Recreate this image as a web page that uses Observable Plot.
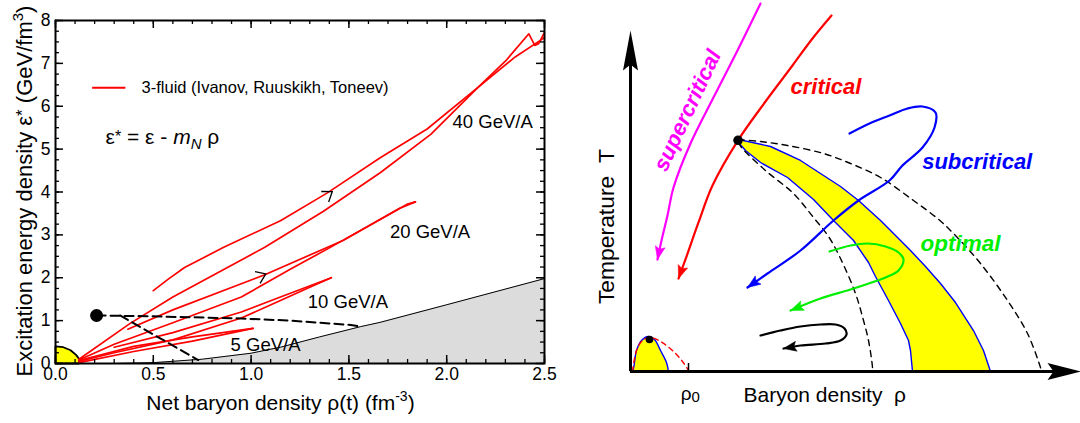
<!DOCTYPE html>
<html>
<head>
<meta charset="utf-8">
<script src="https://cdn.jsdelivr.net/npm/d3@7"></script>
<script src="https://cdn.jsdelivr.net/npm/@observablehq/plot@0.6"></script>
<style>
  html, body { margin: 0; padding: 0; background: #ffffff; }
  #wrap { position: relative; width: 1080px; height: 423px; overflow: hidden; background: #fff; }
  #left { position: absolute; left: 0; top: 0; }
  #right { position: absolute; left: 560px; top: 0; }
</style>
</head>
<body>
<div id="wrap"><div id="left"></div><div id="right"></div></div>
<script>
// ================= LEFT PANEL DATA =================
const xTicksMajor = [0, 0.5, 1.0, 1.5, 2.0, 2.5];
const yTicksMajor = [0, 1, 2, 3, 4, 5, 6, 7, 8];
const xTicksMinor = d3.range(0, 2.5001, 0.1);
const yTicksMinor = d3.range(0, 8.0001, 0.25);

// 3-fluid trajectories (rho, eps*)
const traj40Up = [[0.50,1.70],[0.58,1.98],[0.66,2.24],[0.86,2.71],[1.15,3.33],[1.39,3.98],[1.66,4.80],[1.90,5.47],[2.16,6.44],[2.30,7.05],[2.42,7.69],[2.45,7.42],[2.47,7.46],[2.50,7.72]];
const traj40Down = [[2.50,7.60],[2.35,7.15],[2.16,6.44],[1.92,5.35],[1.66,4.45],[1.37,3.55],[1.07,2.71],[0.60,1.55],[0.38,0.93],[0.12,0.10]];
const traj20Up = [[0.37,0.80],[0.60,1.25],[0.95,1.86],[1.07,2.07],[1.47,2.87],[1.80,3.72],[1.84,3.77]];
const traj20Down = [[1.84,3.77],[1.76,3.62],[1.41,2.72],[1.20,2.20],[0.95,1.55],[0.60,0.95],[0.30,0.45],[0.12,0.08]];
const traj10Up = [[0.30,0.38],[0.60,0.72],[0.95,1.20],[1.15,1.55],[1.41,2.00]];
const traj10Down = [[1.41,2.00],[1.30,1.78],[1.15,1.47],[0.95,1.06],[0.60,0.55],[0.30,0.25],[0.12,0.05]];
const traj5Up = [[0.12,0.07],[0.40,0.40],[0.70,0.62],[1.01,0.82]];
const traj5Down = [[1.01,0.82],[0.70,0.52],[0.40,0.28],[0.12,0.02]];

// direction chevrons on the trajectories
const chevronAt = [[1.415,4.01],[1.075,2.09]];
const chevronToward = [[1.66,4.80],[1.47,2.87]];

// phase boundary (gray region)
const boundaryRho = [0.30,0.50,0.75,1.00,1.15,1.35,1.56,1.66,2.00,2.50];
const boundaryEps = [0.00,0.02,0.10,0.24,0.38,0.62,0.86,0.96,1.37,1.98];

// dashed lines from the critical point
const criticalPoint = [0.21,1.12];
const dashedFlat = [[0.21,1.12],[0.50,1.10],[0.95,1.05],[1.20,1.00],[1.51,0.90],[1.56,0.86]];
const dashedDiag = [[0.33,1.12],[0.73,0.08]];

// nuclear-matter cap near the origin
const nuclearCap = [[0,0],[0,0.40],[0.04,0.38],[0.077,0.31],[0.105,0.20],[0.122,0.10],[0.12,0],[0,0]];

const energyLabels = ["40 GeV/A", "20 GeV/A", "10 GeV/A", "5 GeV/A"];
const energyLabelX = [2.03, 1.71, 1.29, 0.895];
const energyLabelY = [5.62, 3.06, 1.43, 0.42];

const legendText = "3-fluid (Ivanov, Ruuskikh, Toneev)";
const legendLine = [0.19, 0.36];
const legendY = 6.43;
const legendTextX = 0.44;
const formulaText = "ε* = ε - mN ρ";
const formulaX = 0.256, formulaY = 5.28;
const xTitleL = "Net baryon density ρ(t) (fm-3)";
const yTitleL = "Excitation energy density ε* (GeV/fm3)";

// ================= RIGHT PANEL DATA (schematic, arbitrary units 0..100) =================
const liquidGasArc = [[0,0],[0.44,0],[1.33,6.16],[2.44,9.09],[4.0,10.26],[5.33,9.38],[6.67,6.16],[8.0,2.64],[8.44,0]];
const liquidGasSpinodal = [[0.44,0],[1.33,6.16],[2.67,9.09],[4.44,9.97],[6.67,8.8],[9.33,6.16],[11.56,2.93],[12.89,0.29]];
const liquidGasCP = [4.22, 9.38];
const rho0 = 12.89;

const bandOuter = [[24.0,68.04],[31.11,65.98],[37.78,61.88],[42.22,58.06],[46.67,54.25],[50.67,50.15],[55.56,44.28],[62.22,35.48],[65.56,30.79],[68.89,25.81],[72.22,20.23],[76.22,12.02],[78.44,6.16],[80.0,0]];
const bandInner = [[24.0,67.16],[25.56,64.81],[28.89,61.29],[34.89,56.89],[40.67,50.44],[45.11,44.28],[49.56,38.42],[52.89,31.96],[54.44,27.86],[57.33,20.82],[60.0,14.08],[61.78,9.09],[62.22,6.16],[62.67,0]];
const spinodalOuter = [[24.0,68.04],[28.89,67.45],[34.89,66.28],[42.89,63.93],[48.89,61.0],[55.56,56.89],[62.89,50.15],[68.22,44.87],[71.78,40.47],[77.78,31.67],[83.78,20.82],[88.22,11.14],[91.11,1.17],[91.33,0]];
const spinodalInner = [[24.0,67.16],[24.67,65.69],[30.0,58.94],[36.22,52.2],[40.67,45.16],[44.0,39.59],[46.67,33.14],[50.0,22.87],[51.78,14.96],[52.89,9.09],[53.78,1.17],[53.78,0]];
const qcdCP = [23.9, 67.8];

const pathSupercritical = [[28.89,107.9],[23.78,94.13],[18.44,80.35],[13.33,66.86],[9.56,53.96],[8.22,45.75],[6.89,38.42],[6.0,32.84]];
const pathCritical = [[44.67,104.4],[40.44,97.65],[36.0,89.74],[30.0,79.18],[23.9,67.8],[18.22,54.55],[15.11,43.70],[12.44,33.72],[10.67,27.27]];
const pathSubcritical = [[48.67,69.79],[53.11,72.73],[57.56,75.07],[61.56,77.13],[64.89,77.71],[67.78,75.95],[67.56,71.55],[64.89,65.69],[60.44,60.41],[57.56,56.01],[50.67,50.15],[45.11,44.28],[37.78,35.48],[30.44,28.74],[26.0,24.63]];
const pathOptimal = [[44.22,35.19],[48.89,36.95],[52.67,37.54],[56.67,36.66],[59.56,34.9],[60.67,32.84],[59.56,29.62],[56.67,27.57],[54.89,26.69],[48.89,24.05],[42.22,21.41],[35.56,17.89]];
const pathLow = [[28.89,10.56],[33.33,12.02],[37.78,13.2],[42.22,13.78],[45.56,13.78],[47.56,12.61],[48.0,10.85],[46.67,9.09],[43.33,8.21],[37.78,7.62],[34.0,6.74]];

const regimeText = ["supercritical", "critical", "subcritical", "optimal"];
const regimeX = [12.67, 35.56, 64.82, 64.44];
const regimeY = [76.54, 83.58, 61.38, 37.45];
const xTitleR = "Baryon density\u00a0\u00a0ρ";
const yTitleR = "Temperature\u00a0\u00a0T";
const rho0Label = "ρ0";

// ================= HELPERS =================
const FONT = "'Liberation Sans', Arial, Helvetica, sans-serif";
const RED = "#ff0000", BLUE = "#0000ff", GREEN = "#00ee00", MAGENTA = "#ff00ff", YELLOW = "#ffff00";
const angleDeg = (a, b, kx, ky) => Math.atan2(-(b[1] - a[1]) * ky, (b[0] - a[0]) * kx) * 180 / Math.PI;
const chevronSymbol = {draw(ctx) { const L = 11, a = 0.62; ctx.moveTo(-L * Math.cos(a), -L * Math.sin(a)); ctx.lineTo(0, 0); ctx.lineTo(-L * Math.cos(a), L * Math.sin(a)); }};
const stealth = (L, W, n) => ({draw(ctx) { ctx.moveTo(0, 0); ctx.lineTo(-L, -W); ctx.lineTo(-L + n, 0); ctx.lineTo(-L, W); ctx.closePath(); }});
function rich(svg, plain, html) {
  svg.querySelectorAll("text").forEach(t => { if (t.textContent === plain) t.innerHTML = html; });
}
// scale a plain text's font so that it spans the length measured on the reference
function fit(svg, plain, targetLen) {
  svg.querySelectorAll("text").forEach(t => {
    if (t.textContent !== plain) return;
    const len = t.getComputedTextLength();
    const fs = parseFloat(getComputedStyle(t).fontSize);
    if (len > 0 && fs > 0) t.setAttribute("font-size", (fs * targetLen / len).toFixed(2));
  });
}
const px = d => d[0], py = d => d[1];

// ================= LEFT PLOT =================
const LW = 560, LH = 423, LM = {l: 55, r: 16, t: 20, b: 60};
const kxL = (LW - LM.l - LM.r) / 2.5, kyL = (LH - LM.t - LM.b) / 8;
const phaseBoundary = boundaryRho.map((r, i) => [r, boundaryEps[i]]);
const redLine = data => Plot.line(data, {x: px, y: py, stroke: RED, strokeWidth: 1.7});

const left = Plot.plot({
  width: LW, height: LH,
  marginLeft: LM.l, marginRight: LM.r, marginTop: LM.t, marginBottom: LM.b,
  x: {domain: [0, 2.5]}, y: {domain: [0, 8]},
  style: {fontFamily: FONT, background: "transparent", overflow: "visible"},
  marks: [
    Plot.areaY(phaseBoundary, {x: px, y: py, fill: "#dcdcdc"}),
    Plot.line(phaseBoundary, {x: px, y: py, stroke: "black", strokeWidth: 1}),
    Plot.line(nuclearCap, {x: px, y: py, fill: YELLOW, stroke: "black", strokeWidth: 1.8}),
    ...[traj5Up, traj5Down, traj10Up, traj10Down, traj20Up, traj20Down, traj40Up, traj40Down].map(redLine),
    Plot.line(dashedFlat, {x: px, y: py, stroke: "black", strokeWidth: 2, strokeDasharray: "9,5"}),
    Plot.line(dashedDiag, {x: px, y: py, stroke: "black", strokeWidth: 2, strokeDasharray: "9,5"}),
    Plot.dot([criticalPoint], {x: px, y: py, r: 6.5, fill: "black"}),
    ...chevronAt.map((p, i) => Plot.dot([p], {x: px, y: py, symbol: chevronSymbol, fill: "none", stroke: "black", strokeWidth: 1.3, rotate: angleDeg(p, chevronToward[i], kxL, kyL)})),
    Plot.text(energyLabels, {x: (d, i) => energyLabelX[i], y: (d, i) => energyLabelY[i], text: d => d, textAnchor: "start", fontSize: 18.5, fill: "black"}),
    Plot.ruleY([legendY], {x1: legendLine[0], x2: legendLine[1], stroke: RED, strokeWidth: 2}),
    Plot.text([legendText], {x: legendTextX, y: legendY, text: d => d, textAnchor: "start", fontSize: 16.5}),
    Plot.text([formulaText], {x: formulaX, y: formulaY, text: d => d, textAnchor: "start", fontSize: 21}),
    // inward ticks on all four sides
    Plot.ruleX(xTicksMinor, {x: d => d, y1: 0, y2: 4 / kyL, stroke: "black", strokeWidth: 1.3}),
    Plot.ruleX(xTicksMinor, {x: d => d, y1: 8, y2: 8 - 4 / kyL, stroke: "black", strokeWidth: 1.3}),
    Plot.ruleX(xTicksMajor, {x: d => d, y1: 0, y2: 8 / kyL, stroke: "black", strokeWidth: 1.5}),
    Plot.ruleX(xTicksMajor, {x: d => d, y1: 8, y2: 8 - 8 / kyL, stroke: "black", strokeWidth: 1.5}),
    Plot.ruleY(yTicksMinor, {y: d => d, x1: 0, x2: 4 / kxL, stroke: "black", strokeWidth: 1.3}),
    Plot.ruleY(yTicksMinor, {y: d => d, x1: 2.5, x2: 2.5 - 4 / kxL, stroke: "black", strokeWidth: 1.3}),
    Plot.ruleY(yTicksMajor, {y: d => d, x1: 0, x2: 8 / kxL, stroke: "black", strokeWidth: 1.5}),
    Plot.ruleY(yTicksMajor, {y: d => d, x1: 2.5, x2: 2.5 - 8 / kxL, stroke: "black", strokeWidth: 1.5}),
    Plot.frame({stroke: "black", strokeWidth: 2}),
    Plot.axisX(xTicksMajor, {tickSize: 0, tickPadding: 4, fontSize: 17.5, tickFormat: d => d.toFixed(1), label: null}),
    Plot.axisY(yTicksMajor, {tickSize: 0, tickPadding: 5, fontSize: 17.5, tickFormat: d => String(d), label: null}),
    Plot.text([xTitleL], {frameAnchor: "bottom", text: d => d, textAnchor: "middle", lineAnchor: "middle", dx: -19.5, dy: 40, fontSize: 21}),
    Plot.text([yTitleL], {frameAnchor: "left", text: d => d, textAnchor: "middle", lineAnchor: "middle", rotate: -90, dx: -31, dy: -1, fontSize: 22})
  ]
});
document.getElementById("left").appendChild(left);
rich(left, formulaText, 'ε<tspan font-size="16" dy="-2">*</tspan><tspan dy="2"> = ε - </tspan><tspan font-style="italic">m</tspan><tspan font-style="italic" font-size="15" dy="5">N</tspan><tspan dy="-5"> ρ</tspan>');
rich(left, xTitleL, 'Net baryon density ρ(t) (fm<tspan font-size="14" dy="-9">-3</tspan><tspan dy="9">)</tspan>');
rich(left, yTitleL, 'Excitation energy density ε<tspan font-size="17" dy="-4">*</tspan><tspan dy="4"> (GeV/fm</tspan><tspan font-size="15" dy="-9">3</tspan><tspan dy="9">)</tspan>');

// ================= RIGHT PLOT =================
const RW = 520, RH = 423, RM = {l: 70, r: 0, t: 30, b: 52};
const kxR = (RW - RM.l - RM.r) / 100, kyR = (RH - RM.t - RM.b) / 100;
const bandPolygon = bandOuter.concat(bandInner.slice().reverse());
const headSym = stealth(13, 5, 2.5);
const traj = (data, color) => [
  Plot.line(data, {x: px, y: py, stroke: color, strokeWidth: 2.2, curve: "catmull-rom"}),
  Plot.dot([data[data.length - 1]], {x: px, y: py, symbol: headSym, fill: color, stroke: color, strokeWidth: 0.5,
    rotate: angleDeg(data[data.length - 2], data[data.length - 1], kxR, kyR)})
];

const right = Plot.plot({
  width: RW, height: RH,
  marginLeft: RM.l, marginRight: RM.r, marginTop: RM.t, marginBottom: RM.b,
  x: {domain: [0, 100], axis: null}, y: {domain: [0, 100], axis: null},
  style: {fontFamily: FONT, background: "transparent", overflow: "visible"},
  marks: [
    Plot.line(bandPolygon, {x: px, y: py, fill: YELLOW, stroke: BLUE, strokeWidth: 1.4}),
    Plot.line(spinodalOuter, {x: px, y: py, stroke: "black", strokeWidth: 1.4, strokeDasharray: "6,5", curve: "catmull-rom"}),
    Plot.line(spinodalInner, {x: px, y: py, stroke: "black", strokeWidth: 1.4, strokeDasharray: "6,5", curve: "catmull-rom"}),
    Plot.line(liquidGasArc, {x: px, y: py, fill: YELLOW, stroke: BLUE, strokeWidth: 1.4, curve: "catmull-rom"}),
    Plot.line(liquidGasSpinodal, {x: px, y: py, stroke: RED, strokeWidth: 1.4, strokeDasharray: "5,4", curve: "catmull-rom"}),
    ...traj(pathSupercritical, MAGENTA),
    ...traj(pathCritical, RED),
    ...traj(pathSubcritical, BLUE),
    ...traj(pathOptimal, GREEN),
    ...traj(pathLow, "black"),
    Plot.dot([qcdCP], {x: px, y: py, r: 4.8, fill: "black"}),
    Plot.dot([liquidGasCP], {x: px, y: py, r: 3.8, fill: "black"}),
    Plot.ruleX([rho0], {x: d => d, y1: 0, y2: 8 / kyR, stroke: "black", strokeWidth: 1.5}),
    Plot.ruleX([0], {x: d => d, y1: 0, y2: 96, stroke: "black", strokeWidth: 3}),
    Plot.ruleY([0], {y: d => d, x1: 0, x2: 96, stroke: "black", strokeWidth: 3}),
    Plot.dot([[0, 100]], {x: px, y: py, symbol: stealth(40, 7.5, 6), fill: "black", rotate: -90}),
    Plot.dot([[100, 0]], {x: px, y: py, symbol: stealth(33, 8.5, 6), fill: "black", rotate: 0}),
    Plot.text([regimeText[0]], {x: regimeX[0], y: regimeY[0], text: d => d, rotate: -65, fill: MAGENTA, fontWeight: "bold", fontStyle: "italic", fontSize: 22}),
    Plot.text([regimeText[1]], {x: regimeX[1], y: regimeY[1], text: d => d, textAnchor: "start", fill: RED, fontWeight: "bold", fontStyle: "italic", fontSize: 22}),
    Plot.text([regimeText[2]], {x: regimeX[2], y: regimeY[2], text: d => d, textAnchor: "start", fill: BLUE, fontWeight: "bold", fontStyle: "italic", fontSize: 22}),
    Plot.text([regimeText[3]], {x: regimeX[3], y: regimeY[3], text: d => d, textAnchor: "start", fill: GREEN, fontWeight: "bold", fontStyle: "italic", fontSize: 22.5}),
    Plot.text([xTitleR], {x: 25.11, y: -7.04, text: d => d, textAnchor: "start", fontSize: 21}),
    Plot.text([yTitleR], {x: -5.33, y: 42.5, text: d => d, textAnchor: "middle", rotate: -90, fontSize: 21}),
    Plot.text([rho0Label], {x: rho0 + 0.4, y: -6.45, text: d => d, fontSize: 19})
  ]
});
document.getElementById("right").appendChild(right);
fit(right, yTitleR, 155);
rich(right, rho0Label, 'ρ<tspan font-size="15" dy="2">0</tspan>');
</script>
</body>
</html>
